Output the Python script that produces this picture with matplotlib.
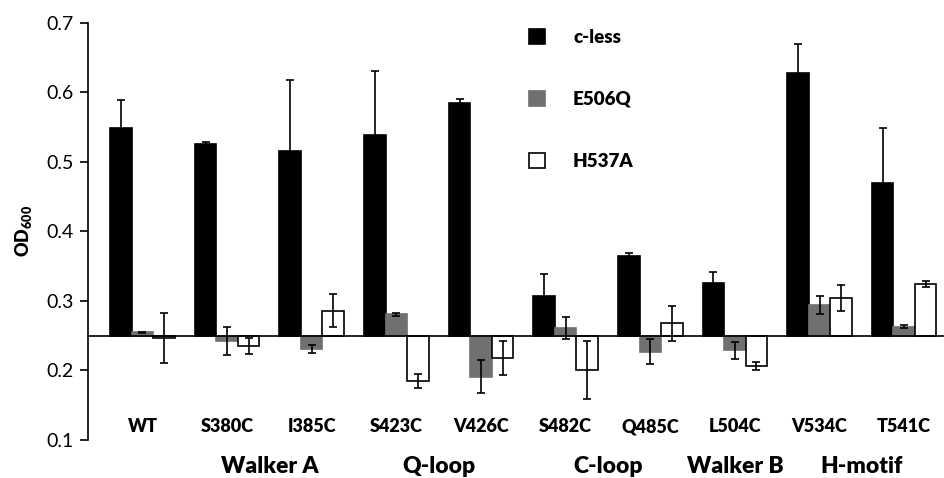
import matplotlib
matplotlib.use("Agg")
import matplotlib.pyplot as plt
from matplotlib.patches import Patch
import numpy as np

plt.rcParams["font.family"] = ["Lato", "DejaVu Sans"]
plt.rcParams["mathtext.fontset"] = "custom"
plt.rcParams["mathtext.rm"] = "Lato"
plt.rcParams["mathtext.bf"] = "Lato:weight=heavy"

mutants = ["WT", "S380C", "I385C", "S423C", "V426C",
           "S482C", "Q485C", "L504C", "V534C", "T541C"]
series = ["c-less", "E506Q", "H537A"]

c_less = [0.549, 0.525, 0.516, 0.539, 0.585, 0.307, 0.365, 0.326, 0.627, 0.469]
c_less_err = [0.040, 0.004, 0.101, 0.091, 0.006, 0.032, 0.004, 0.015, 0.042, 0.079]
e506q = [0.255, 0.242, 0.231, 0.281, 0.191, 0.261, 0.227, 0.229, 0.294, 0.263]
e506q_err = [0.001, 0.020, 0.006, 0.002, 0.024, 0.016, 0.018, 0.012, 0.013, 0.002]
h537a = [0.246, 0.235, 0.286, 0.185, 0.218, 0.201, 0.268, 0.206, 0.304, 0.324]
h537a_err = [0.036, 0.011, 0.024, 0.010, 0.025, 0.042, 0.025, 0.006, 0.019, 0.004]

motifs = ["Walker A", "Q-loop", "C-loop", "Walker B", "H-motif"]
motif_pos = [1.5, 3.5, 5.5, 7.0, 8.5]

baseline = 0.25
fig = plt.figure(figsize=(9.44, 4.78), dpi=100)
ax = fig.add_axes([88.3 / 944, 38 / 478, (944 - 88.3) / 944, 417.3 / 478])

x = np.arange(len(mutants))
w = 0.254
styles = [
    dict(color="black", edgecolor="black"),
    dict(color="#707070", edgecolor="#707070"),
    dict(color="white", edgecolor="black"),
]
for i, (vals, errs) in enumerate([(c_less, c_less_err), (e506q, e506q_err), (h537a, h537a_err)]):
    vals = np.array(vals)
    pos = x + (i - 1) * w
    # bars hang from the 0.25 baseline
    ax.bar(pos, vals - baseline, bottom=baseline, width=w, linewidth=1.2,
           zorder=2, **styles[i])
    ax.errorbar(pos, vals, yerr=errs, fmt="none", ecolor="black",
                elinewidth=1.2, capsize=3.2, capthick=1.2, zorder=3)

ax.set_xlim(-0.64, 9.47)
ax.set_ylim(0.1, 0.7)
ax.set_yticks([0.1, 0.2, 0.3, 0.4, 0.5, 0.6, 0.7])
ax.tick_params(axis="y", direction="out", length=5.5, width=1.2, pad=5, labelsize=14)
ax.set_xticks([])
ax.spines["top"].set_visible(False)
ax.spines["right"].set_visible(False)
ax.spines["bottom"].set_position(("data", baseline))
ax.spines["bottom"].set_linewidth(1.2)
ax.spines["bottom"].set_zorder(4)
ax.spines["left"].set_linewidth(1.2)

ax.set_ylabel(r"$\mathbf{OD_{600}}$", fontsize=13, labelpad=9)

bold = "heavy"
for xi, name in zip(x, mutants):
    ax.text(xi, 0.119, name, ha="center", va="center", fontsize=13,
            fontweight=bold, clip_on=False)
for xp, name in zip(motif_pos, motifs):
    ax.text(xp, 0.062, name, ha="center", va="center", fontsize=16.5,
            fontweight=bold, clip_on=False)

handles = [Patch(facecolor=s["color"], edgecolor=s["edgecolor"], linewidth=1.2)
           for s in styles]
ax.legend(handles, series, loc="upper left", bbox_to_anchor=(0.515, 0.985),
          frameon=False, handlelength=0.85, handleheight=0.85, handletextpad=1.5,
          labelspacing=2.4, borderaxespad=0, borderpad=0,
          prop={"weight": bold, "size": 13.5})

fig.savefig("out.png", dpi=100)
